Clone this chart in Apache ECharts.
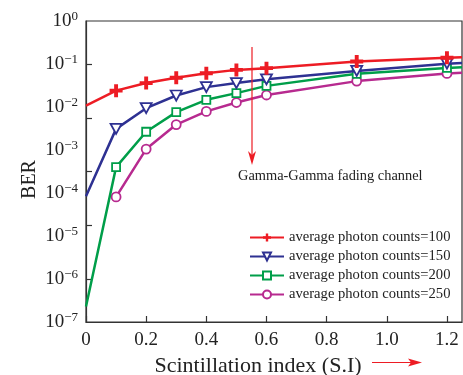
<!DOCTYPE html>
<html>
<head>
<meta charset="utf-8">
<script src="https://cdn.jsdelivr.net/npm/echarts@6/dist/echarts.min.js"></script>
<style>
  html, body { margin: 0; padding: 0; background: #fff; }
  #chart { width: 463px; height: 375px; }
</style>
</head>
<body>
<div id="chart"></div>
<script>
// 闪烁指数 vs 误码率
const siValues = [0, 0.1, 0.2, 0.3, 0.4, 0.5, 0.6, 0.9, 1.2, 1.25]
const ber100 = [0.0107, 0.024, 0.036, 0.048, 0.061, 0.073, 0.08, 0.114, 0.14, 0.143]
const ber150 = [8.4e-5, 0.0031, 0.0094, 0.0185, 0.029, 0.036, 0.044, 0.069, 0.102, 0.106]
const ber200 = [2.3e-7, 4.0e-4, 0.00266, 0.0076, 0.0147, 0.021, 0.031, 0.059, 0.081, 0.084]
const ber250 = [null, 8.1e-5, 0.00105, 0.0039, 0.0079, 0.0127, 0.019, 0.04, 0.0605, 0.063]
const seriesNames = [
  'average photon counts=100',
  'average photon counts=150',
  'average photon counts=200',
  'average photon counts=250'
]
const yTickPositions = [10 ** -1, 10 ** -2.25, 10 ** -3.5, 10 ** -4.75, 10 ** -6]

const FONT = 'Liberation Serif'
const colors = ['#ed1c24', '#2e3192', '#009e49', '#b72a8f']
const plusPath = 'path://M3.5,0h3v3.5h3.5v3h-3.5v3.5h-3v-3.5h-3.5v-3h3.5z'
const trianglePath = 'path://M0,0L10,0L5,9Z'

function toPoints(values) {
  return siValues.map((x, i) => {
    const item = { value: [x, values[i]] }
    // 端点不画标记
    if (x === 0 || x > 1.2) item.symbol = 'none'
    return item
  })
}

function makeSeries(idx, values, symbol, size, filled) {
  return {
    name: seriesNames[idx],
    type: 'line',
    data: toPoints(values),
    connectNulls: false,
    symbol: symbol,
    symbolSize: size,
    showAllSymbol: true,
    lineStyle: { color: colors[idx], width: 2.5 },
    itemStyle: filled
      ? { color: colors[idx], borderWidth: 0 }
      : { color: '#fff', borderColor: colors[idx], borderWidth: 1.8 },
    emphasis: { disabled: true },
    animation: false,
    z: 10 - idx
  }
}

const chart = echarts.init(document.getElementById('chart'))

const option = {
  backgroundColor: '#fff',
  animation: false,
  textStyle: { fontFamily: FONT },
  grid: {
    left: 86,
    top: 21,
    width: 376,
    height: 301,
    show: true,
    borderColor: '#333',
    borderWidth: 1.2,
    containLabel: false,
    outerBoundsMode: 'none'
  },
  legend: {
    orient: 'vertical',
    left: 244,
    top: 225,
    itemWidth: 34,
    itemHeight: 10,
    itemGap: 4,
    textStyle: { fontFamily: FONT, fontSize: 14.6, color: '#222' },
    data: seriesNames
  },
  xAxis: {
    type: 'value',
    min: 0,
    max: 1.25,
    interval: 0.2,
    name: 'Scintillation index (S.I)',
    nameLocation: 'middle',
    nameGap: 31,
    nameTextStyle: { fontFamily: FONT, fontSize: 22, color: '#222', padding: [0, 32, 0, 0] },
    axisLine: { lineStyle: { color: '#333', width: 1.2 } },
    axisTick: { inside: true, length: 6, lineStyle: { color: '#333', width: 1.2 } },
    axisLabel: {
      fontFamily: FONT,
      fontSize: 19,
      color: '#222',
      margin: 9,
      formatter: v => (v === 0 ? '0' : v.toFixed(1))
    },
    splitLine: { show: false }
  },
  yAxis: {
    type: 'log',
    logBase: 10,
    min: 1e-7,
    max: 1,
    name: 'BER',
    nameLocation: 'middle',
    nameGap: 46,
    nameMoveOverlap: false,
    nameRotate: 90,
    nameTextStyle: { fontFamily: FONT, fontSize: 20, color: '#222', padding: [0, 16, 0, 0] },
    axisLine: { lineStyle: { color: '#333', width: 1.2 } },
    axisTick: {
      inside: true,
      length: 6,
      customValues: yTickPositions,
      lineStyle: { color: '#333', width: 1.2 }
    },
    axisLabel: {
      margin: 8,
      formatter: v => {
        const e = Math.round(Math.log10(v))
        return '{b|10}{s|' + (e < 0 ? '\u2212' + (-e) : e) + '}'
      },
      rich: {
        b: { fontFamily: FONT, fontSize: 19, color: '#222' },
        s: { fontFamily: FONT, fontSize: 13, color: '#222', verticalAlign: 'top', padding: [0, 0, 8, 0] }
      }
    },
    splitLine: { show: false }
  },
  graphic: [
    // 竖直箭头
    {
      type: 'line',
      shape: { x1: 252, y1: 47, x2: 252, y2: 158 },
      style: { stroke: '#ed1c24', lineWidth: 1.2 },
      z: 20
    },
    {
      type: 'polygon',
      shape: { points: [[248, 151], [252, 165], [256, 151], [252, 155]] },
      style: { fill: '#ed1c24' },
      z: 20
    },
    {
      type: 'text',
      left: 238,
      top: 169,
      style: { text: 'Gamma-Gamma fading channel', font: '14.4px "Liberation Serif"', fill: '#222' },
      z: 20
    },
    // x轴名称右侧箭头
    {
      type: 'line',
      shape: { x1: 372, y1: 362.5, x2: 414, y2: 362.5 },
      style: { stroke: '#ed1c24', lineWidth: 1.2 },
      z: 20
    },
    {
      type: 'polygon',
      shape: { points: [[408, 358.5], [422, 362.5], [408, 366.5], [411, 362.5]] },
      style: { fill: '#ed1c24' },
      z: 20
    }
  ],
  series: [
    makeSeries(0, ber100, plusPath, 13, true),
    makeSeries(1, ber150, trianglePath, [11, 10], false),
    makeSeries(2, ber200, 'rect', 8, false),
    makeSeries(3, ber250, 'circle', 9, false)
  ]
}

chart.setOption(option)

window.addEventListener('resize', () => {
  chart && chart.resize()
})
</script>
</body>
</html>
